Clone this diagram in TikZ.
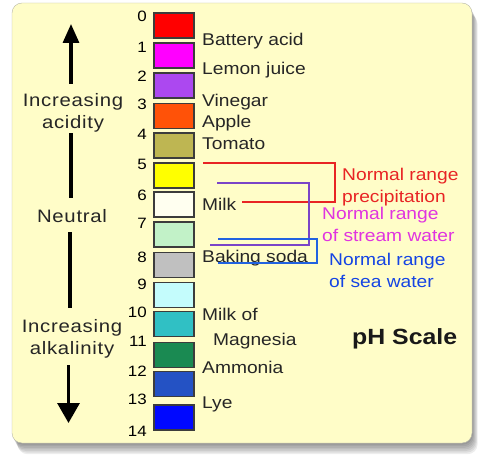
\documentclass[tikz,border=0pt]{standalone}
\usepackage{fontspec}
\setmainfont{Liberation Sans}[FakeStretch=1.13]
\newfontfamily\spacedfont{Liberation Sans}[FakeStretch=1.13,LetterSpace=4]
\usetikzlibrary{arrows.meta, positioning}

\definecolor{paper}{HTML}{FFFDC8}
\definecolor{rimgray}{HTML}{B8B8A8}
\definecolor{boxrim}{HTML}{3C3C3C}
\definecolor{rangered}{HTML}{E82424}
\definecolor{rangepurple}{HTML}{7A44C8}
\definecolor{rangeblue}{HTML}{2262E0}
\definecolor{textmagenta}{HTML}{E034E0}
\definecolor{textblue}{HTML}{1444E4}
% scale colours, pH 0 to 13
\definecolor{phcol0}{HTML}{FF0000}
\definecolor{phcol1}{HTML}{FF00FF}
\definecolor{phcol2}{HTML}{AC48F0}
\definecolor{phcol3}{HTML}{FF5208}
\definecolor{phcol4}{HTML}{BEB652}
\definecolor{phcol5}{HTML}{FFFF00}
\definecolor{phcol6}{HTML}{FFFFF0}
\definecolor{phcol7}{HTML}{C2F2C8}
\definecolor{phcol8}{HTML}{C0C0C0}
\definecolor{phcol9}{HTML}{C4FCFC}
\definecolor{phcol10}{HTML}{30C0C4}
\definecolor{phcol11}{HTML}{1A8A52}
\definecolor{phcol12}{HTML}{2452C4}
\definecolor{phcol13}{HTML}{0008FF}

\tikzset{
  phbox/.style={draw=boxrim, line width=1.4pt, minimum width=40pt,
    minimum height=25pt, inner sep=0pt},
  phnum/.style={anchor=east, inner sep=0pt, font=\fontsize{15}{18}\selectfont},
  substance/.style={anchor=base west, inner sep=0pt,
    font=\fontsize{17}{20}\selectfont, text=black!85},
  sidelabel/.style={inner sep=0pt, align=center, text=black!85,
    font=\spacedfont\fontsize{18}{22}\selectfont},
  axisline/.style={line width=3.2pt, black},
  rangetext/.style={anchor=north west, inner sep=0pt, align=left,
    font=\fontsize{17}{22}\selectfont},
  rangeline/.style={line width=1.2pt},
}

\begin{document}
\begin{tikzpicture}[x=1pt, y=-1pt, >=Triangle]
\useasboundingbox (0,0) rectangle (485,465);

% card with its shadow
\foreach \k in {1,...,7}
  \fill[black, opacity=0.07, rounded corners=10pt]
    (12+\k*0.8,3+\k*1.6) rectangle (472+\k*0.8,443+\k*1.6);
\draw[rimgray, fill=paper, rounded corners=10pt] (12,3) rectangle (472,443);

% colour scale
\foreach \y [count=\i from 0] in {25.5,55.5,85.5,116,145.5,175.5,204.5,
    234.5,265,295,324,355,384,417.5}
  \node[phbox, fill=phcol\i] (ph\i) at (174,\y) {};

% numbers
\foreach \y [count=\i from 0] in {16,47,76,104,134,164,195,223,257,284,312,341,371,399,431}
  \node[phnum] (num\i) at (147,\y) {\i};

% substances
\node[substance] (battery) at (202,46) {Battery acid};
\node[substance] (lemon) at (202,75) {Lemon juice};
\node[substance] (vinegar) at (202,107) {Vinegar};
\node[substance] (apple) at (202,128) {Apple};
\node[substance] (tomato) at (202,150) {Tomato};
\node[substance] (milk) at (202,211) {Milk};
\node[substance] (baking) at (202,263) {Baking soda};
\node[substance] (milkof) at (202,321) {Milk of};
\node[substance] (magnesia) at (213,345) {Magnesia};
\node[substance] (ammonia) at (202,373) {Ammonia};
\node[substance] (lye) at (202,408) {Lye};

% left axis
\node[sidelabel, anchor=north] (incacid) at (73,93) {Increasing\\acidity};
\node[sidelabel, anchor=base] (neutral) at (72,223) {Neutral};
\node[sidelabel, anchor=north] (incalk) at (72,319) {Increasing\\alkalinity};
\coordinate (acidtip) at (71,24);
\coordinate (alktip) at (68.5,423);

\draw[axisline, -{Triangle[width=16pt, length=19pt]}, shorten <=9pt]
  (incacid.north -| acidtip) -- (acidtip);
\draw[axisline, shorten <=1pt, shorten >=12pt] (incacid.south -| acidtip) -- (neutral.north -| acidtip);
\draw[axisline, shorten <=9pt, shorten >=11pt] (neutral.south -| 70,0) -- (incalk.north -| 70,0);
\draw[axisline, -{Triangle[width=22pt, length=20pt]}, shorten <=7pt]
  (incalk.south -| alktip) -- (alktip);

% normal ranges
\coordinate (redtop) at (203,163);
\coordinate (redend) at (242,202);
\coordinate (purpletop) at (217,183);
\coordinate (purpleend) at (210,245);
\coordinate (bluetop) at (218,239);
\coordinate (blueend) at (218,263);

\draw[rangeline, rangered] (redtop) -| (335,202) -- (redend);
\draw[rangeline, rangepurple] (purpletop) -| (309,245) -- (purpleend);
\draw[rangeline, rangeblue] (bluetop) -| (317,263) -- (blueend);

\node[rangetext, text=rangered] (rainrange) at (342,168) {Normal range\\precipitation};
\node[rangetext, text=textmagenta] (streamrange) at (322,207) {Normal range\\of stream water};
\node[rangetext, text=textblue] (searange) at (329,253) {Normal range\\of sea water};

\node[anchor=north west, inner sep=0pt, font=\bfseries\fontsize{22}{26}\selectfont,
  text=black!90] (title) at (352,328) {pH Scale};
\end{tikzpicture}
\end{document}
